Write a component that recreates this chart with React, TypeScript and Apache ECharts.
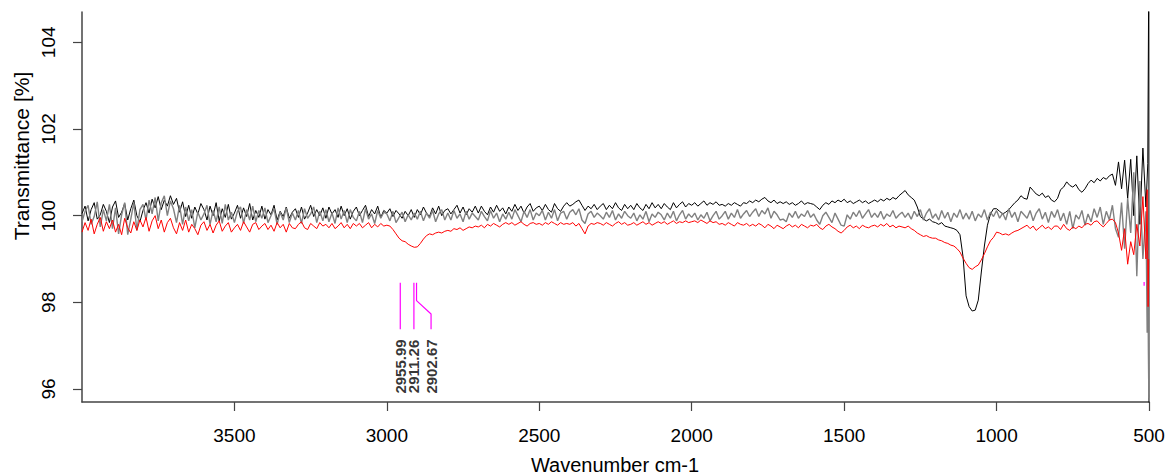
import React, { useEffect, useRef } from "react";
import * as echarts from "echarts";

// Spectrum sampled every 10 cm-1 from 4000 down to 510 cm-1
const WN_START = 4000;
const WN_STEP = 10;

const blackValues = [
  100.05, 100.22, 99.88, 100.14, 100.30, 99.92, 100.02, 100.26, 100.10, 99.84,
  100.20, 100.34, 99.96, 100.08, 100.28, 99.90, 100.16, 100.36, 100.00, 99.86,
  100.12, 100.30, 100.06, 100.38, 100.18, 100.44, 100.14, 100.36, 100.22, 100.46,
  100.26, 100.40, 100.08, 100.32, 99.98, 100.24, 99.94, 100.20, 100.04, 100.28,
  100.14, 99.90, 100.22, 100.00, 100.30, 99.88, 100.16, 99.96, 100.26, 99.92,
  100.06, 100.24, 99.94, 100.18, 99.98, 100.28, 99.90, 100.12, 99.96, 100.22,
  99.92, 100.14, 100.02, 100.24, 99.90, 100.10, 99.98, 100.20, 99.94, 100.08,
  100.16, 99.96, 100.20, 99.92, 100.06, 100.24, 99.98, 100.14, 100.00, 100.18,
  99.94, 100.20, 100.04, 100.14, 99.96, 100.22, 100.00, 100.16, 99.92, 100.10,
  100.20, 100.00, 100.12, 100.24, 99.98, 100.14, 100.04, 100.22, 99.96, 100.12,
  100.06, 100.16, 99.98, 100.12, 100.04, 99.94, 100.10, 100.00, 100.14, 99.96,
  100.14, 100.02, 100.20, 100.06, 99.98, 100.18, 100.04, 100.22, 100.00, 100.12,
  100.16, 100.04, 100.14, 100.24, 100.06, 100.20, 100.02, 100.16, 100.08, 100.22,
  100.06, 100.22, 100.10, 100.02, 100.20, 100.08, 100.24, 100.10, 100.18, 100.04,
  100.20, 100.10, 100.26, 100.12, 100.22, 100.06, 100.20, 100.28, 100.10, 100.18,
  100.22, 100.12, 100.26, 100.14, 100.08, 100.28, 100.16, 100.10, 100.22, 100.30,
  100.22, 100.26, 100.32, 100.36, 100.24, 100.12, 100.22, 100.16, 100.26, 100.14,
  100.22, 100.28, 100.14, 100.24, 100.16, 100.30, 100.18, 100.12, 100.26, 100.16,
  100.24, 100.14, 100.28, 100.18, 100.12, 100.26, 100.16, 100.30, 100.18, 100.26,
  100.16, 100.28, 100.20, 100.14, 100.30, 100.18, 100.26, 100.32, 100.20, 100.28,
  100.24, 100.30, 100.22, 100.28, 100.34, 100.24, 100.30, 100.26, 100.32, 100.24,
  100.26, 100.22, 100.28, 100.24, 100.30, 100.26, 100.22, 100.30, 100.28, 100.34,
  100.30, 100.36, 100.32, 100.38, 100.42, 100.34, 100.30, 100.36, 100.28, 100.32,
  100.28, 100.32, 100.26, 100.30, 100.24, 100.28, 100.34, 100.26, 100.30, 100.28,
  100.26, 100.20, 100.14, 100.24, 100.30, 100.26, 100.34, 100.30, 100.36, 100.32,
  100.38, 100.30, 100.34, 100.28, 100.32, 100.36, 100.30, 100.34, 100.28, 100.32,
  100.36, 100.32, 100.38, 100.34, 100.40, 100.36, 100.42, 100.38, 100.46, 100.52,
  100.58, 100.48, 100.42, 100.36, 100.20, 99.98, 99.92, 99.88, 99.92, 99.86,
  99.84, 99.80, 99.84, 99.76, 99.74, 99.72, 99.70, 99.66, 99.56, 99.05,
  98.15, 97.90, 97.80, 97.82, 98.05, 98.70, 99.30, 99.78, 100.04, 100.16,
  100.16, 100.10, 100.04, 100.08, 100.14, 100.22, 100.30, 100.36, 100.46, 100.40,
  100.38, 100.66, 100.58, 100.50, 100.46, 100.52, 100.42, 100.46, 100.36, 100.32,
  100.40, 100.60, 100.66, 100.78, 100.70, 100.66, 100.72, 100.60, 100.54, 100.62,
  100.74, 100.82, 100.76, 100.86, 100.80, 100.88, 100.84, 100.92, 100.96, 100.70,
  101.24, 100.62, 101.28, 100.40, 101.30, 100.00, 101.38, 99.80, 101.56, 100.20,
];

const grayValues = [
  99.86, 100.10, 100.24, 99.80, 99.98, 100.32, 99.74, 100.14, 99.88, 100.26,
  99.70, 100.18, 99.58, 100.02, 100.30, 99.56, 99.92, 100.30, 99.66, 100.14,
  100.26, 99.90, 100.36, 100.04, 100.42, 99.88, 100.30, 100.46, 100.00, 100.34,
  100.16, 99.84, 100.24, 99.80, 100.20, 99.88, 100.14, 99.72, 100.08, 99.90,
  100.04, 100.24, 99.80, 100.12, 99.86, 100.20, 99.82, 100.26, 99.90, 100.08,
  99.84, 100.10, 100.20, 99.82, 100.14, 99.90, 100.22, 99.86, 100.12, 99.94,
  100.18, 99.84, 100.00, 100.16, 99.80, 100.08, 99.90, 100.18, 99.84, 100.06,
  99.90, 100.12, 99.82, 100.16, 99.94, 100.04, 100.20, 99.84, 100.10, 99.88,
  100.14, 99.86, 100.06, 99.82, 100.18, 99.92, 100.12, 99.84, 100.14, 99.96,
  99.88, 100.10, 99.84, 100.16, 99.92, 100.04, 99.82, 100.12, 99.94, 100.08,
  100.04, 99.88, 100.10, 99.84, 99.96, 100.08, 99.86, 100.02, 99.90, 100.06,
  99.92, 100.10, 99.88, 100.06, 99.94, 100.12, 99.86, 100.04, 100.14, 99.90,
  100.06, 99.90, 100.12, 99.94, 100.04, 99.86, 100.10, 99.92, 100.06, 99.98,
  99.90, 100.10, 99.98, 99.88, 100.12, 99.94, 100.06, 99.86, 100.04, 99.92,
  100.08, 99.92, 100.14, 100.00, 99.86, 100.10, 99.96, 100.14, 99.90, 100.06,
  100.00, 100.12, 99.90, 100.08, 99.94, 100.14, 99.88, 100.06, 100.10, 99.92,
  100.08, 100.14, 100.02, 100.16, 99.90, 99.82, 100.04, 100.10, 99.96, 100.06,
  100.00, 99.92, 100.08, 99.96, 100.12, 99.90, 100.04, 99.94, 100.10, 100.00,
  99.94, 100.06, 99.88, 100.02, 99.92, 100.10, 99.86, 100.04, 99.96, 100.08,
  100.02, 99.90, 100.06, 99.94, 100.10, 99.88, 100.02, 100.12, 99.92, 100.04,
  99.96, 100.06, 99.90, 100.02, 99.94, 100.08, 99.88, 100.00, 100.10, 99.92,
  100.00, 100.10, 99.92, 100.06, 99.96, 100.14, 99.94, 100.04, 100.12, 99.98,
  100.08, 100.16, 99.98, 100.12, 100.04, 100.18, 99.94, 100.10, 100.02, 99.90,
  99.92, 99.86, 100.06, 99.96, 100.10, 99.94, 100.04, 99.98, 100.12, 99.96,
  100.04, 99.90, 99.80, 100.00, 100.08, 99.96, 99.84, 100.06, 99.92, 99.78,
  99.76, 100.02, 99.92, 100.08, 99.98, 100.12, 99.94, 100.04, 100.14, 99.96,
  100.06, 99.96, 100.10, 99.92, 100.04, 99.98, 100.12, 99.94, 100.02, 100.08,
  99.96, 100.06, 99.92, 100.10, 99.98, 100.14, 99.90, 100.06, 100.16, 99.94,
  100.04, 99.90, 100.12, 99.94, 100.08, 99.86, 100.06, 99.96, 100.14, 99.92,
  100.06, 99.92, 100.10, 99.88, 100.04, 99.96, 100.14, 99.90, 100.08, 99.98,
  100.12, 99.94, 100.06, 99.90, 100.16, 99.96, 100.08, 99.86, 100.10, 100.02,
  99.94, 100.12, 99.88, 100.06, 100.16, 99.92, 100.08, 99.84, 100.10, 99.96,
  100.14, 99.88, 100.06, 99.80, 100.10, 99.70, 100.02, 99.92, 100.12, 99.78,
  100.04, 99.86, 100.16, 99.96, 100.20, 99.80, 100.10, 99.90, 100.24, 99.70,
  99.50, 100.30, 99.24, 100.40, 99.60, 101.00, 98.60, 100.80, 99.00, 100.10,
];

const redValues = [
  99.62, 99.84, 99.66, 99.92, 99.58, 99.80, 99.96, 99.64, 99.86, 99.70,
  99.90, 99.62, 99.80, 99.56, 99.94, 99.72, 99.60, 99.86, 99.66, 99.90,
  99.74, 99.96, 99.64, 99.88, 100.00, 99.70, 99.90, 99.62, 99.84, 99.94,
  99.72, 99.58, 99.84, 99.66, 99.90, 99.62, 99.80, 99.70, 99.56, 99.78,
  99.86, 99.66, 99.80, 99.60, 99.78, 99.88, 99.64, 99.76, 99.84, 99.62,
  99.72, 99.80, 99.66, 99.86, 99.74, 99.62, 99.80, 99.84, 99.68, 99.76,
  99.82, 99.68, 99.78, 99.64, 99.84, 99.72, 99.80, 99.62, 99.82, 99.72,
  99.70, 99.80, 99.86, 99.72, 99.68, 99.82, 99.76, 99.70, 99.84, 99.76,
  99.80, 99.72, 99.82, 99.70, 99.76, 99.84, 99.72, 99.80, 99.70, 99.82,
  99.76, 99.82, 99.72, 99.78, 99.84, 99.72, 99.80, 99.74, 99.82, 99.76,
  99.78, 99.76, 99.68, 99.58, 99.48, 99.42, 99.40, 99.34, 99.30, 99.27,
  99.28, 99.36, 99.46, 99.54, 99.58, 99.56, 99.60, 99.62, 99.60, 99.64,
  99.66, 99.64, 99.70, 99.68, 99.72, 99.66, 99.70, 99.74, 99.72, 99.76,
  99.74, 99.78, 99.72, 99.80, 99.76, 99.82, 99.78, 99.74, 99.80, 99.84,
  99.80, 99.84, 99.78, 99.82, 99.86, 99.80, 99.76, 99.82, 99.84, 99.80,
  99.82, 99.78, 99.84, 99.80, 99.86, 99.82, 99.78, 99.84, 99.80, 99.82,
  99.80, 99.84, 99.76, 99.82, 99.70, 99.58, 99.76, 99.82, 99.80, 99.84,
  99.82, 99.78, 99.84, 99.80, 99.76, 99.82, 99.86, 99.80, 99.84, 99.78,
  99.80, 99.84, 99.78, 99.82, 99.86, 99.80, 99.84, 99.78, 99.82, 99.86,
  99.82, 99.86, 99.80, 99.84, 99.88, 99.82, 99.86, 99.84, 99.88, 99.84,
  99.86, 99.88, 99.84, 99.90, 99.86, 99.82, 99.88, 99.84, 99.86, 99.80,
  99.82, 99.78, 99.84, 99.80, 99.76, 99.84, 99.80, 99.78, 99.82, 99.76,
  99.80, 99.76, 99.82, 99.78, 99.72, 99.80, 99.76, 99.70, 99.78, 99.74,
  99.70, 99.76, 99.80, 99.74, 99.78, 99.72, 99.80, 99.76, 99.72, 99.78,
  99.76, 99.80, 99.72, 99.68, 99.76, 99.80, 99.74, 99.70, 99.64, 99.60,
  99.66, 99.74, 99.78, 99.72, 99.76, 99.70, 99.78, 99.74, 99.72, 99.76,
  99.78, 99.74, 99.80, 99.76, 99.82, 99.74, 99.78, 99.72, 99.76, 99.74,
  99.72, 99.76, 99.70, 99.66, 99.60, 99.56, 99.52, 99.54, 99.50, 99.48,
  99.48, 99.44, 99.42, 99.38, 99.36, 99.32, 99.30, 99.24, 99.16, 99.02,
  98.90, 98.80, 98.76, 98.82, 98.86, 98.98, 99.12, 99.28, 99.42, 99.50,
  99.62, 99.60, 99.56, 99.58, 99.55, 99.60, 99.64, 99.66, 99.70, 99.74,
  99.78, 99.70, 99.76, 99.66, 99.72, 99.78, 99.70, 99.74, 99.68, 99.76,
  99.76, 99.68, 99.80, 99.70, 99.66, 99.74, 99.70, 99.76, 99.72, 99.80,
  99.82, 99.78, 99.86, 99.88, 99.80, 99.74, 99.82, 99.90, 99.92, 99.84,
  99.60, 99.20, 99.70, 98.88, 99.40, 99.10, 99.80, 99.30, 100.44, 99.00,
];

// Last few points at the low-wavenumber end, [wavenumber, %T]
const blackTail = [[504, 101.2], [500.5, 106], [500, 94]];
const grayTail = [[506, 97.3], [504, 99.2], [502, 96.9], [500.5, 95.8]];
const redTail = [[506, 100.6], [503, 97.9], [501, 99.0]];

// Peak picking annotations
const peakLine1 = [[2955.99, 98.45], [2955.99, 97.38]];
const peakLine2 = [[2911.26, 98.45], [2911.26, 97.38]];
const peakLine3 = [[2902.67, 98.45], [2902.67, 98.04], [2855, 97.73], [2855, 97.38]];
const peakLine4 = [[516, 98.47], [516, 98.38]];
const peakLabels = ["2955.99", "2911.26", "2902.67"];
const peakLabelX = [2956, 2911, 2855];
const peakLabelY = 96.52;

const xTicks = [500, 1000, 1500, 2000, 2500, 3000, 3500];
const yTicks = [96, 98, 100, 102, 104];

const FONT = "'Liberation Sans', Arial, Helvetica, sans-serif";
const AXIS_COLOR = "#444";

function toPairs(vals: number[], tail: number[][]) {
  const pts = vals.map((v, i) => [WN_START - i * WN_STEP, v]);
  return pts.concat(tail);
}

export default function App() {
  const ref = useRef<HTMLDivElement>(null);

  useEffect(() => {
    const chart = echarts.init(ref.current!, null, { renderer: "svg" });
    const spectrum = (name: string, data: number[][], color: string, width: number, z: number) => ({
      name,
      type: "line",
      data,
      showSymbol: false,
      symbol: "none",
      clip: true,
      z,
      lineStyle: { color, width },
      emphasis: { disabled: true },
    });
    const annot = (data: number[][]) => ({
      type: "line",
      data,
      showSymbol: false,
      symbol: "none",
      z: 5,
      lineStyle: { color: "#ff00ff", width: 1.2 },
      emphasis: { disabled: true },
    });
    chart.setOption({
      animation: false,
      backgroundColor: "#ffffff",
      grid: { left: 82, right: 18, top: 12, bottom: 74, containLabel: false, outerBoundsMode: "none" },
      xAxis: {
        type: "value",
        min: 500,
        max: 4000,
        inverse: true,
        axisLine: { show: true, onZero: false, lineStyle: { color: AXIS_COLOR, width: 1.5 } },
        axisTick: { show: true, length: 9, customValues: xTicks, lineStyle: { color: AXIS_COLOR, width: 1.2 } },
        axisLabel: {
          customValues: xTicks,
          fontSize: 19,
          color: "#000",
          margin: 24,
          fontFamily: FONT,
          formatter: (v: number) => String(v),
        },
        splitLine: { show: false },
      },
      yAxis: {
        type: "value",
        min: 95.7,
        max: 104.7,
        axisLine: { show: true, onZero: false, lineStyle: { color: AXIS_COLOR, width: 1.5 } },
        axisTick: { show: true, length: 9, customValues: yTicks, lineStyle: { color: AXIS_COLOR, width: 1.2 } },
        axisLabel: {
          customValues: yTicks,
          rotate: 90,
          fontSize: 19,
          color: "#000",
          margin: 24,
          fontFamily: FONT,
          formatter: (v: number) => String(v),
        },
        splitLine: { show: false },
      },
      series: [
        spectrum("black", toPairs(blackValues, blackTail), "#000000", 1, 2),
        spectrum("gray", toPairs(grayValues, grayTail), "#808080", 1.4, 3),
        spectrum("red", toPairs(redValues, redTail), "#ff0000", 1, 4),
        annot(peakLine1),
        annot(peakLine2),
        annot(peakLine3),
        annot(peakLine4),
        {
          type: "scatter",
          symbolSize: 1,
          z: 6,
          itemStyle: { color: "rgba(0,0,0,0)" },
          data: peakLabels.map((t, i) => ({ value: [peakLabelX[i], peakLabelY], name: t })),
          label: {
            show: true,
            position: "inside",
            rotate: 90,
            align: "center",
            verticalAlign: "middle",
            formatter: (p: any) => p.name,
            fontSize: 15,
            fontWeight: "bold",
            color: "#000",
            fontFamily: FONT,
          },
          emphasis: { disabled: true },
        },
      ],
      graphic: [
        {
          type: "text",
          x: 21,
          y: 156,
          rotation: Math.PI / 2,
          style: {
            text: "Transmittance [%]",
            fontSize: 21,
            fontFamily: FONT,
            fill: "#000",
            textAlign: "center",
            textVerticalAlign: "middle",
          },
        },
        {
          type: "text",
          x: 615,
          y: 465,
          style: {
            text: "Wavenumber cm-1",
            fontSize: 20,
            fontFamily: FONT,
            fill: "#000",
            textAlign: "center",
            textVerticalAlign: "middle",
          },
        },
      ],
    });
    return () => chart.dispose();
  }, []);

  return (
    <div
      ref={ref}
      style={{ position: "absolute", left: 0, top: 0, width: 1167, height: 476, background: "#fff" }}
    />
  );
}
